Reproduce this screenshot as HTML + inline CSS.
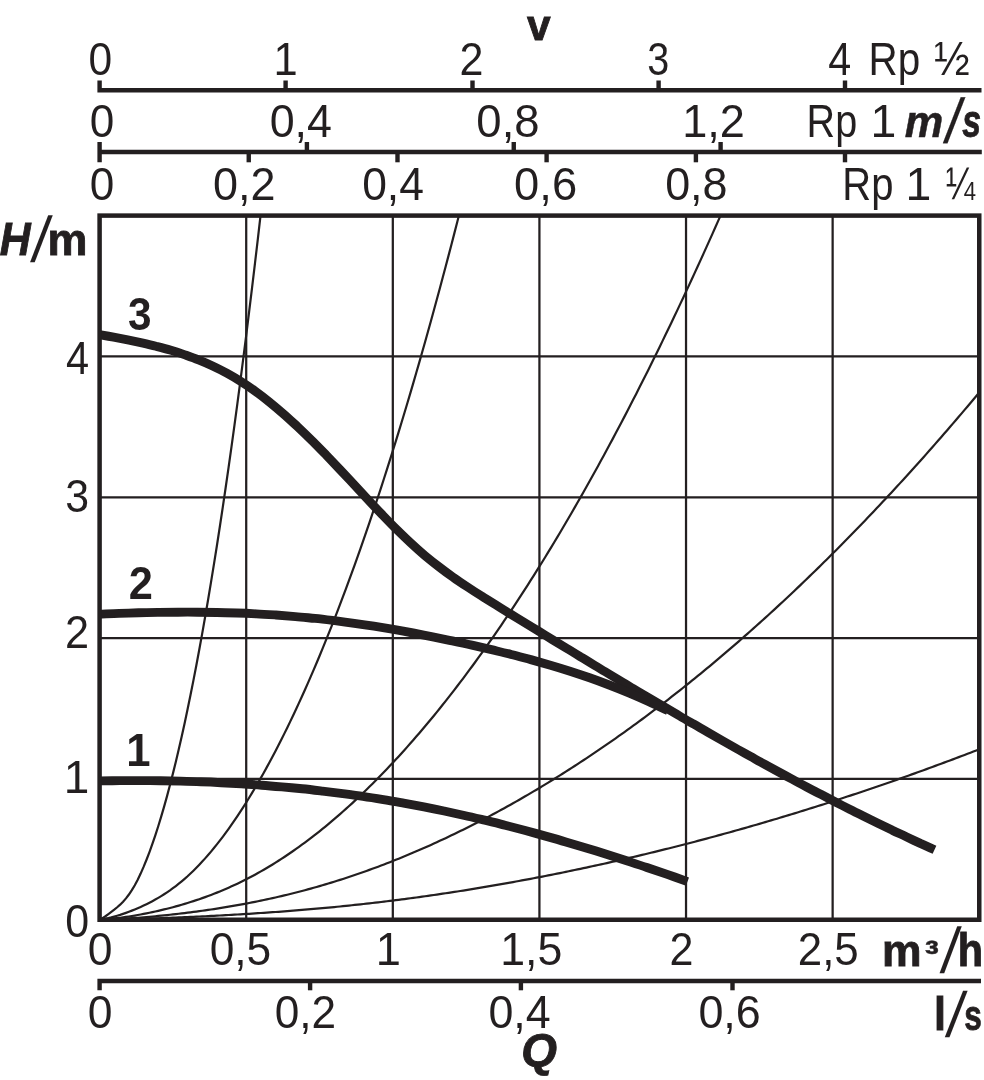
<!DOCTYPE html>
<html><head><meta charset="utf-8"><title>Pump curve</title>
<style>
html,body{margin:0;padding:0;background:#fff;}
svg{display:block}
text{font-family:'Liberation Sans', sans-serif;font-size:46.4px;fill:#231f20;}
</style></head><body>
<svg width="984" height="1080" viewBox="0 0 984 1080">
<rect width="984" height="1080" fill="#fff"/>
<g stroke="#231f20" stroke-width="2.25" fill="none">
<line x1="246.21" y1="215.6" x2="246.21" y2="919.75"/>
<line x1="392.82" y1="215.6" x2="392.82" y2="919.75"/>
<line x1="539.42" y1="215.6" x2="539.42" y2="919.75"/>
<line x1="686.03" y1="215.6" x2="686.03" y2="919.75"/>
<line x1="832.64" y1="215.6" x2="832.64" y2="919.75"/>
<line x1="99.6" y1="778.92" x2="979.25" y2="778.92"/>
<line x1="99.6" y1="638.09" x2="979.25" y2="638.09"/>
<line x1="99.6" y1="497.26" x2="979.25" y2="497.26"/>
<line x1="99.6" y1="356.43" x2="979.25" y2="356.43"/>
</g>
<g stroke="#231f20" stroke-width="2.2" fill="none">
<path d="M99.60 919.75L102.53 918.14L105.46 916.22L108.40 914.13L111.33 911.95L114.26 909.68L117.19 907.28L120.13 904.67L123.06 901.74L125.99 898.39L128.92 894.54L131.85 890.15L134.79 885.19L137.72 879.66L140.65 873.57L143.58 866.94L146.51 859.78L149.45 852.12L152.38 843.97L155.31 835.34L158.24 826.23L161.18 816.65L164.11 806.60L167.04 796.08L169.97 785.09L172.90 773.64L175.84 761.72L178.77 749.33L181.70 736.47L184.63 723.14L187.57 709.35L190.50 695.09L193.43 680.36L196.36 665.17L199.29 649.50L202.23 633.37L205.16 616.77L208.09 599.71L211.02 582.17L213.95 564.17L216.89 545.71L219.82 526.77L222.75 507.37L225.68 487.49L228.62 467.16L231.55 446.35L234.48 425.08L237.41 403.33L240.34 381.13L243.28 358.45L246.21 335.31L249.14 311.69L252.07 287.61L255.00 263.07L257.94 238.05L260.52 215.60"/>
<path d="M99.60 919.75L102.53 919.28L105.46 918.73L108.40 918.09L111.33 917.38L114.26 916.59L117.19 915.74L120.13 914.84L123.06 913.87L125.99 912.85L128.92 911.77L131.85 910.64L134.79 909.46L137.72 908.22L140.65 906.93L143.58 905.59L146.51 904.18L149.45 902.71L152.38 901.17L155.31 899.56L158.24 897.88L161.18 896.12L164.11 894.28L167.04 892.35L169.97 890.34L172.90 888.23L175.84 886.02L178.77 883.72L181.70 881.32L184.63 878.81L187.57 876.21L190.50 873.50L193.43 870.68L196.36 867.76L199.29 864.74L202.23 861.61L205.16 858.38L208.09 855.04L211.02 851.60L213.95 848.05L216.89 844.41L219.82 840.66L222.75 836.81L225.68 832.86L228.62 828.81L231.55 824.66L234.48 820.42L237.41 816.08L240.34 811.64L243.28 807.10L246.21 802.47L249.14 797.74L252.07 792.92L255.00 788.00L257.94 782.98L260.87 777.88L263.80 772.67L266.73 767.38L269.67 761.99L272.60 756.50L275.53 750.92L278.46 745.25L281.39 739.48L284.33 733.62L287.26 727.66L290.19 721.61L293.12 715.47L296.06 709.23L298.99 702.90L301.92 696.48L304.85 689.96L307.78 683.35L310.72 676.64L313.65 669.84L316.58 662.95L319.51 655.96L322.44 648.88L325.38 641.70L328.31 634.43L331.24 627.07L334.17 619.61L337.11 612.06L340.04 604.42L342.97 596.68L345.90 588.85L348.83 580.92L351.77 572.90L354.70 564.79L357.63 556.58L360.56 548.28L363.50 539.89L366.43 531.40L369.36 522.82L372.29 514.14L375.22 505.37L378.16 496.51L381.09 487.55L384.02 478.50L386.95 469.36L389.88 460.12L392.82 450.79L395.75 441.36L398.68 431.84L401.61 422.23L404.55 412.52L407.48 402.72L410.41 392.82L413.34 382.83L416.27 372.75L419.21 362.57L422.14 352.30L425.07 341.94L428.00 331.48L430.93 320.93L433.87 310.28L436.80 299.55L439.73 288.71L442.66 277.79L445.60 266.76L448.53 255.65L451.46 244.44L454.39 233.14L457.32 221.74L458.90 215.60"/>
<path d="M99.60 919.75L102.53 919.55L105.46 919.32L108.40 919.06L111.33 918.78L114.26 918.46L117.19 918.12L120.13 917.75L123.06 917.35L125.99 916.94L128.92 916.49L131.85 916.03L134.79 915.54L137.72 915.02L140.65 914.49L143.58 913.93L146.51 913.35L149.45 912.75L152.38 912.13L155.31 911.49L158.24 910.83L161.18 910.14L164.11 909.44L167.04 908.71L169.97 907.96L172.90 907.19L175.84 906.39L178.77 905.58L181.70 904.74L184.63 903.87L187.57 902.98L190.50 902.07L193.43 901.13L196.36 900.17L199.29 899.18L202.23 898.16L205.16 897.11L208.09 896.04L211.02 894.94L213.95 893.80L216.89 892.64L219.82 891.45L222.75 890.23L225.68 888.98L228.62 887.69L231.55 886.37L234.48 885.03L237.41 883.65L240.34 882.23L243.28 880.78L246.21 879.30L249.14 877.79L252.07 876.24L255.00 874.66L257.94 873.05L260.87 871.40L263.80 869.71L266.73 868.00L269.67 866.25L272.60 864.46L275.53 862.64L278.46 860.79L281.39 858.90L284.33 856.97L287.26 855.02L290.19 853.03L293.12 851.00L296.06 848.95L298.99 846.86L301.92 844.73L304.85 842.57L307.78 840.38L310.72 838.16L313.65 835.90L316.58 833.61L319.51 831.28L322.44 828.93L325.38 826.54L328.31 824.12L331.24 821.66L334.17 819.17L337.11 816.66L340.04 814.10L342.97 811.52L345.90 808.90L348.83 806.26L351.77 803.58L354.70 800.86L357.63 798.12L360.56 795.34L363.50 792.54L366.43 789.70L369.36 786.83L372.29 783.92L375.22 780.99L378.16 778.02L381.09 775.03L384.02 772.00L386.95 768.94L389.88 765.84L392.82 762.72L395.75 759.56L398.68 756.38L401.61 753.16L404.55 749.91L407.48 746.63L410.41 743.31L413.34 739.97L416.27 736.59L419.21 733.19L422.14 729.75L425.07 726.28L428.00 722.78L430.93 719.24L433.87 715.68L436.80 712.08L439.73 708.46L442.66 704.80L445.60 701.11L448.53 697.39L451.46 693.63L454.39 689.85L457.32 686.03L460.26 682.19L463.19 678.31L466.12 674.40L469.05 670.46L471.99 666.48L474.92 662.48L477.85 658.44L480.78 654.38L483.71 650.28L486.65 646.15L489.58 641.99L492.51 637.80L495.44 633.57L498.37 629.32L501.31 625.03L504.24 620.71L507.17 616.36L510.10 611.98L513.04 607.57L515.97 603.12L518.90 598.65L521.83 594.14L524.76 589.60L527.70 585.03L530.63 580.43L533.56 575.80L536.49 571.14L539.43 566.44L542.36 561.72L545.29 556.96L548.22 552.17L551.15 547.35L554.09 542.50L557.02 537.61L559.95 532.70L562.88 527.75L565.81 522.77L568.75 517.76L571.68 512.72L574.61 507.65L577.54 502.55L580.48 497.41L583.41 492.25L586.34 487.05L589.27 481.82L592.20 476.56L595.14 471.27L598.07 465.95L601.00 460.59L603.93 455.21L606.86 449.79L609.80 444.34L612.73 438.86L615.66 433.35L618.59 427.80L621.53 422.23L624.46 416.62L627.39 410.99L630.32 405.32L633.25 399.62L636.19 393.89L639.12 388.12L642.05 382.33L644.98 376.50L647.92 370.65L650.85 364.76L653.78 358.84L656.71 352.89L659.64 346.91L662.58 340.89L665.51 334.85L668.44 328.77L671.37 322.66L674.30 316.52L677.24 310.35L680.17 304.15L683.10 297.91L686.03 291.65L688.97 285.35L691.90 279.02L694.83 272.66L697.76 266.27L700.69 259.85L703.63 253.40L706.56 246.91L709.49 240.40L712.42 233.85L715.35 227.27L718.29 220.66L720.52 215.60"/>
<path d="M99.60 919.75L102.53 919.66L105.46 919.56L108.40 919.44L111.33 919.32L114.26 919.19L117.19 919.04L120.13 918.88L123.06 918.72L125.99 918.54L128.92 918.35L131.85 918.16L134.79 917.95L137.72 917.73L140.65 917.51L143.58 917.27L146.51 917.03L149.45 916.78L152.38 916.52L155.31 916.25L158.24 915.97L161.18 915.68L164.11 915.38L167.04 915.08L169.97 914.76L172.90 914.44L175.84 914.11L178.77 913.77L181.70 913.43L184.63 913.07L187.57 912.71L190.50 912.34L193.43 911.96L196.36 911.57L199.29 911.17L202.23 910.76L205.16 910.35L208.09 909.92L211.02 909.49L213.95 909.05L216.89 908.59L219.82 908.13L222.75 907.66L225.68 907.18L228.62 906.69L231.55 906.19L234.48 905.69L237.41 905.17L240.34 904.64L243.28 904.10L246.21 903.55L249.14 902.99L252.07 902.42L255.00 901.84L257.94 901.25L260.87 900.64L263.80 900.03L266.73 899.40L269.67 898.77L272.60 898.12L275.53 897.46L278.46 896.79L281.39 896.10L284.33 895.41L287.26 894.70L290.19 893.98L293.12 893.25L296.06 892.51L298.99 891.76L301.92 890.99L304.85 890.21L307.78 889.42L310.72 888.61L313.65 887.80L316.58 886.97L319.51 886.13L322.44 885.27L325.38 884.41L328.31 883.53L331.24 882.64L334.17 881.73L337.11 880.82L340.04 879.89L342.97 878.94L345.90 877.99L348.83 877.02L351.77 876.04L354.70 875.05L357.63 874.05L360.56 873.03L363.50 872.00L366.43 870.96L369.36 869.90L372.29 868.83L375.22 867.75L378.16 866.66L381.09 865.55L384.02 864.44L386.95 863.31L389.88 862.16L392.82 861.01L395.75 859.84L398.68 858.66L401.61 857.47L404.55 856.27L407.48 855.05L410.41 853.82L413.34 852.58L416.27 851.33L419.21 850.07L422.14 848.79L425.07 847.50L428.00 846.20L430.93 844.88L433.87 843.56L436.80 842.22L439.73 840.87L442.66 839.51L445.60 838.14L448.53 836.75L451.46 835.36L454.39 833.95L457.32 832.52L460.26 831.09L463.19 829.65L466.12 828.19L469.05 826.72L471.99 825.24L474.92 823.75L477.85 822.24L480.78 820.73L483.71 819.20L486.65 817.66L489.58 816.11L492.51 814.55L495.44 812.97L498.37 811.38L501.31 809.78L504.24 808.17L507.17 806.55L510.10 804.92L513.04 803.27L515.97 801.61L518.90 799.95L521.83 798.26L524.76 796.57L527.70 794.87L530.63 793.15L533.56 791.42L536.49 789.68L539.43 787.93L542.36 786.17L545.29 784.39L548.22 782.61L551.15 780.81L554.09 779.00L557.02 777.18L559.95 775.34L562.88 773.50L565.81 771.64L568.75 769.77L571.68 767.89L574.61 766.00L577.54 764.09L580.48 762.18L583.41 760.25L586.34 758.31L589.27 756.36L592.20 754.40L595.14 752.42L598.07 750.44L601.00 748.44L603.93 746.43L606.86 744.41L609.80 742.38L612.73 740.33L615.66 738.28L618.59 736.21L621.53 734.13L624.46 732.04L627.39 729.93L630.32 727.82L633.25 725.69L636.19 723.55L639.12 721.40L642.05 719.24L644.98 717.07L647.92 714.88L650.85 712.69L653.78 710.48L656.71 708.26L659.64 706.03L662.58 703.78L665.51 701.53L668.44 699.26L671.37 696.98L674.30 694.69L677.24 692.39L680.17 690.07L683.10 687.75L686.03 685.41L688.97 683.06L691.90 680.70L694.83 678.33L697.76 675.94L700.69 673.55L703.63 671.14L706.56 668.72L709.49 666.29L712.42 663.84L715.35 661.39L718.29 658.92L721.22 656.44L724.15 653.95L727.08 651.45L730.02 648.94L732.95 646.41L735.88 643.88L738.81 641.33L741.74 638.77L744.68 636.20L747.61 633.61L750.54 631.02L753.47 628.41L756.41 625.79L759.34 623.16L762.27 620.52L765.20 617.87L768.13 615.20L771.07 612.52L774.00 609.83L776.93 607.13L779.86 604.42L782.79 601.70L785.73 598.96L788.66 596.21L791.59 593.45L794.52 590.68L797.46 587.90L800.39 585.11L803.32 582.30L806.25 579.48L809.18 576.65L812.12 573.81L815.05 570.96L817.98 568.09L820.91 565.22L823.85 562.33L826.78 559.43L829.71 556.52L832.64 553.59L835.57 550.66L838.51 547.71L841.44 544.75L844.37 541.78L847.30 538.80L850.23 535.81L853.17 532.80L856.10 529.78L859.03 526.75L861.96 523.71L864.90 520.66L867.83 517.60L870.76 514.52L873.69 511.43L876.62 508.33L879.56 505.22L882.49 502.10L885.42 498.97L888.35 495.82L891.28 492.66L894.22 489.49L897.15 486.31L900.08 483.12L903.01 479.92L905.95 476.70L908.88 473.47L911.81 470.23L914.74 466.98L917.67 463.72L920.61 460.44L923.54 457.15L926.47 453.86L929.40 450.55L932.34 447.22L935.27 443.89L938.20 440.55L941.13 437.19L944.06 433.82L947.00 430.44L949.93 427.05L952.86 423.64L955.79 420.23L958.72 416.80L961.66 413.36L964.59 409.91L967.52 406.45L970.45 402.98L973.39 399.49L976.32 395.99L979.25 392.48"/>
<path d="M99.60 919.75L102.53 919.71L105.46 919.66L108.40 919.61L111.33 919.55L114.26 919.49L117.19 919.43L120.13 919.37L123.06 919.30L125.99 919.22L128.92 919.15L131.85 919.07L134.79 918.99L137.72 918.91L140.65 918.82L143.58 918.73L146.51 918.64L149.45 918.54L152.38 918.44L155.31 918.34L158.24 918.24L161.18 918.13L164.11 918.02L167.04 917.91L169.97 917.79L172.90 917.68L175.84 917.56L178.77 917.44L181.70 917.31L184.63 917.19L187.57 917.06L190.50 916.93L193.43 916.79L196.36 916.66L199.29 916.52L202.23 916.38L205.16 916.23L208.09 916.09L211.02 915.94L213.95 915.79L216.89 915.64L219.82 915.48L222.75 915.32L225.68 915.16L228.62 915.00L231.55 914.83L234.48 914.66L237.41 914.49L240.34 914.32L243.28 914.14L246.21 913.96L249.14 913.78L252.07 913.59L255.00 913.40L257.94 913.21L260.87 913.02L263.80 912.82L266.73 912.62L269.67 912.42L272.60 912.21L275.53 912.00L278.46 911.79L281.39 911.57L284.33 911.35L287.26 911.12L290.19 910.90L293.12 910.67L296.06 910.43L298.99 910.20L301.92 909.96L304.85 909.71L307.78 909.46L310.72 909.21L313.65 908.95L316.58 908.69L319.51 908.43L322.44 908.16L325.38 907.89L328.31 907.62L331.24 907.34L334.17 907.06L337.11 906.77L340.04 906.48L342.97 906.18L345.90 905.88L348.83 905.58L351.77 905.28L354.70 904.96L357.63 904.65L360.56 904.33L363.50 904.01L366.43 903.68L369.36 903.35L372.29 903.01L375.22 902.67L378.16 902.33L381.09 901.98L384.02 901.63L386.95 901.27L389.88 900.91L392.82 900.55L395.75 900.18L398.68 899.80L401.61 899.43L404.55 899.04L407.48 898.66L410.41 898.27L413.34 897.88L416.27 897.48L419.21 897.08L422.14 896.67L425.07 896.26L428.00 895.84L430.93 895.43L433.87 895.00L436.80 894.58L439.73 894.15L442.66 893.71L445.60 893.27L448.53 892.83L451.46 892.38L454.39 891.93L457.32 891.47L460.26 891.02L463.19 890.55L466.12 890.08L469.05 889.61L471.99 889.14L474.92 888.66L477.85 888.18L480.78 887.69L483.71 887.20L486.65 886.70L489.58 886.20L492.51 885.70L495.44 885.19L498.37 884.68L501.31 884.17L504.24 883.65L507.17 883.13L510.10 882.60L513.04 882.07L515.97 881.53L518.90 881.00L521.83 880.45L524.76 879.91L527.70 879.36L530.63 878.80L533.56 878.25L536.49 877.68L539.43 877.12L542.36 876.55L545.29 875.98L548.22 875.40L551.15 874.82L554.09 874.23L557.02 873.65L559.95 873.05L562.88 872.46L565.81 871.86L568.75 871.25L571.68 870.65L574.61 870.03L577.54 869.42L580.48 868.80L583.41 868.18L586.34 867.55L589.27 866.92L592.20 866.29L595.14 865.65L598.07 865.01L601.00 864.36L603.93 863.71L606.86 863.06L609.80 862.40L612.73 861.74L615.66 861.08L618.59 860.41L621.53 859.73L624.46 859.06L627.39 858.38L630.32 857.69L633.25 857.01L636.19 856.32L639.12 855.62L642.05 854.92L644.98 854.22L647.92 853.51L650.85 852.80L653.78 852.09L656.71 851.37L659.64 850.65L662.58 849.92L665.51 849.19L668.44 848.46L671.37 847.72L674.30 846.98L677.24 846.24L680.17 845.49L683.10 844.74L686.03 843.98L688.97 843.22L691.90 842.46L694.83 841.69L697.76 840.92L700.69 840.15L703.63 839.37L706.56 838.59L709.49 837.80L712.42 837.01L715.35 836.22L718.29 835.42L721.22 834.62L724.15 833.81L727.08 833.00L730.02 832.19L732.95 831.38L735.88 830.56L738.81 829.73L741.74 828.90L744.68 828.07L747.61 827.24L750.54 826.40L753.47 825.56L756.41 824.71L759.34 823.86L762.27 823.00L765.20 822.15L768.13 821.28L771.07 820.42L774.00 819.55L776.93 818.68L779.86 817.80L782.79 816.92L785.73 816.03L788.66 815.14L791.59 814.25L794.52 813.36L797.46 812.46L800.39 811.55L803.32 810.65L806.25 809.74L809.18 808.82L812.12 807.90L815.05 806.98L817.98 806.05L820.91 805.12L823.85 804.19L826.78 803.25L829.71 802.31L832.64 801.36L835.57 800.42L838.51 799.46L841.44 798.51L844.37 797.55L847.30 796.58L850.23 795.61L853.17 794.64L856.10 793.67L859.03 792.69L861.96 791.70L864.90 790.72L867.83 789.73L870.76 788.73L873.69 787.73L876.62 786.73L879.56 785.73L882.49 784.72L885.42 783.70L888.35 782.69L891.28 781.67L894.22 780.64L897.15 779.61L900.08 778.58L903.01 777.54L905.95 776.50L908.88 775.46L911.81 774.41L914.74 773.36L917.67 772.31L920.61 771.25L923.54 770.18L926.47 769.12L929.40 768.05L932.34 766.97L935.27 765.90L938.20 764.82L941.13 763.73L944.06 762.64L947.00 761.55L949.93 760.45L952.86 759.35L955.79 758.25L958.72 757.14L961.66 756.03L964.59 754.91L967.52 753.79L970.45 752.67L973.39 751.54L976.32 750.41L979.25 749.28"/>
</g>
<g stroke="#231f20" stroke-width="8.9" fill="none" stroke-linejoin="round">
<path d="M99.4 334.6C101.8 335.0 108.8 336.3 113.6 337.2C118.3 338.1 123.0 339.0 127.7 339.9C132.4 340.9 137.1 341.9 141.9 342.9C146.6 344.0 151.3 345.1 156.0 346.3C160.7 347.5 165.5 348.7 170.2 350.1C174.9 351.5 179.6 353.0 184.3 354.6C189.0 356.3 193.8 358.0 198.5 359.9C203.2 361.8 207.9 363.8 212.6 366.0C217.4 368.3 222.1 370.6 226.8 373.2C231.5 375.8 236.2 378.5 240.9 381.5C245.7 384.5 250.4 387.7 255.1 391.1C259.8 394.5 264.5 398.1 269.3 401.9C274.0 405.7 278.7 409.7 283.4 413.8C288.1 417.9 292.8 422.3 297.6 426.7C302.3 431.1 307.0 435.7 311.7 440.4C316.4 445.0 321.1 449.9 325.9 454.7C330.6 459.6 335.3 464.6 340.0 469.6C344.7 474.6 349.5 479.7 354.2 484.8C358.9 489.9 363.6 495.0 368.3 500.0C373.0 505.1 377.8 510.1 382.5 515.0C387.2 519.9 391.9 524.8 396.6 529.4C401.4 534.1 406.1 538.7 410.8 543.0C415.5 547.4 420.2 551.6 424.9 555.6C429.7 559.6 434.4 563.3 439.1 566.9C443.8 570.6 448.5 574.0 453.3 577.3C458.0 580.7 462.7 583.8 467.4 586.9C472.1 590.1 476.8 593.1 481.6 596.0C486.3 599.0 491.0 601.9 495.7 604.8C500.4 607.8 505.2 610.7 509.9 613.6C514.6 616.5 519.3 619.4 524.0 622.3C528.7 625.2 533.5 628.1 538.2 630.9C542.9 633.8 547.6 636.7 552.3 639.6C557.1 642.5 561.8 645.4 566.5 648.3C571.2 651.1 575.9 654.0 580.6 656.9C585.4 659.7 590.1 662.6 594.8 665.5C599.5 668.3 604.2 671.2 609.0 674.0C613.7 676.8 618.4 679.7 623.1 682.5C627.8 685.3 632.5 688.2 637.3 691.0C642.0 693.8 646.7 696.6 651.4 699.4C656.1 702.2 660.9 705.0 665.6 707.7C670.3 710.5 675.0 713.3 679.7 716.0C684.4 718.8 689.2 721.5 693.9 724.2C698.6 727.0 703.3 729.7 708.0 732.4C712.8 735.1 717.5 737.8 722.2 740.5C726.9 743.2 731.6 745.8 736.3 748.5C741.1 751.1 745.8 753.8 750.5 756.4C755.2 759.0 759.9 761.7 764.6 764.2C769.4 766.8 774.1 769.4 778.8 772.0C783.5 774.6 788.2 777.1 793.0 779.6C797.7 782.2 802.4 784.7 807.1 787.2C811.8 789.7 816.5 792.2 821.3 794.6C826.0 797.1 830.7 799.5 835.4 802.0C840.1 804.4 844.9 806.8 849.6 809.2C854.3 811.5 859.0 813.9 863.7 816.3C868.4 818.6 873.2 820.9 877.9 823.2C882.6 825.5 887.3 827.8 892.0 830.1C896.8 832.3 901.5 834.6 906.2 836.8C910.9 839.0 915.6 841.2 920.3 843.4C925.1 845.5 932.1 848.7 934.5 849.8"/>
<path d="M99.4 614.2C102.7 614.1 112.5 613.6 119.0 613.4C125.5 613.2 132.1 613.0 138.6 612.8C145.1 612.6 151.7 612.5 158.2 612.4C164.8 612.3 171.3 612.2 177.8 612.2C184.4 612.1 190.9 612.1 197.4 612.2C204.0 612.2 210.5 612.3 217.0 612.5C223.6 612.6 230.1 612.8 236.6 613.0C243.2 613.2 249.7 613.5 256.3 613.9C262.8 614.2 269.3 614.6 275.9 615.0C282.4 615.5 288.9 616.0 295.5 616.6C302.0 617.1 308.5 617.8 315.1 618.4C321.6 619.1 328.1 619.9 334.7 620.7C341.2 621.5 347.8 622.4 354.3 623.3C360.8 624.2 367.4 625.2 373.9 626.2C380.4 627.2 387.0 628.3 393.5 629.4C400.0 630.6 406.6 631.8 413.1 633.0C419.6 634.2 426.2 635.5 432.7 636.8C439.3 638.2 445.8 639.5 452.3 640.9C458.9 642.3 465.4 643.7 471.9 645.2C478.5 646.7 485.0 648.2 491.5 649.7C498.1 651.3 504.6 652.8 511.1 654.5C517.7 656.1 524.2 657.9 530.8 659.6C537.3 661.4 543.8 663.3 550.4 665.2C556.9 667.1 563.4 669.1 570.0 671.2C576.5 673.3 583.0 675.5 589.6 677.8C596.1 680.1 602.6 682.5 609.2 685.0C615.7 687.5 622.3 690.1 628.8 692.8C635.3 695.5 641.9 698.4 648.4 701.4C654.9 704.4 664.7 709.2 668.0 710.8"/>
<path d="M99.4 780.9C102.8 780.8 112.9 780.7 119.7 780.6C126.4 780.6 133.2 780.6 140.0 780.6C146.7 780.6 153.5 780.7 160.2 780.7C167.0 780.8 173.8 781.0 180.5 781.1C187.3 781.3 194.0 781.5 200.8 781.8C207.6 782.0 214.3 782.3 221.1 782.7C227.8 783.0 234.6 783.4 241.4 783.8C248.1 784.2 254.9 784.7 261.6 785.2C268.4 785.7 275.2 786.3 281.9 786.9C288.7 787.5 295.4 788.1 302.2 788.8C309.0 789.5 315.7 790.3 322.5 791.1C329.2 791.9 336.0 792.7 342.8 793.6C349.5 794.5 356.3 795.4 363.0 796.4C369.8 797.4 376.6 798.5 383.3 799.6C390.1 800.7 396.8 801.9 403.6 803.1C410.3 804.3 417.1 805.6 423.9 806.9C430.6 808.2 437.4 809.6 444.1 811.0C450.9 812.5 457.7 814.0 464.4 815.5C471.2 817.0 477.9 818.6 484.7 820.2C491.5 821.8 498.2 823.5 505.0 825.2C511.7 826.9 518.5 828.7 525.3 830.5C532.0 832.3 538.8 834.2 545.5 836.1C552.3 838.0 559.1 839.9 565.8 841.9C572.6 843.9 579.3 845.9 586.1 847.9C592.9 850.0 599.6 852.1 606.4 854.2C613.1 856.4 619.9 858.6 626.7 860.8C633.4 863.0 640.2 865.2 646.9 867.5C653.7 869.8 660.5 872.1 667.2 874.4C674.0 876.8 684.1 880.4 687.5 881.6"/>
</g>
<rect x="99.6" y="215.6" width="879.65" height="704.15" fill="none" stroke="#231f20" stroke-width="4.5"/>
<g stroke="#231f20" stroke-width="4.4" fill="none">
<path d="M99.6 80.5V90.3H981.5"/>
<path d="M285.6 80.5V90.3"/>
<path d="M472.5 80.5V90.3"/>
<path d="M658.6 80.5V90.3"/>
<path d="M845 80.5V90.3"/>
<path d="M99.6 142V162.3M97.4 152H981.8"/>
<path d="M306.9 142V152"/>
<path d="M513.75 142V152"/>
<path d="M720.6 142V152"/>
<path d="M248.75 152V162.3"/>
<path d="M397.5 152V162.3"/>
<path d="M546.6 152V162.3"/>
<path d="M695.9 152V162.3"/>
<path d="M845 152V162.3"/>
<path d="M99.6 990.3V981H981"/>
<path d="M310.1 981V990.3"/>
<path d="M520.9 981V990.3"/>
<path d="M732.5 981V990.3"/>
</g>
<g>
<text transform="matrix(0.9179 0 0 1.0000 88.47 75.00)" style="">0</text>
<text transform="matrix(0.9375 0 0 1.0000 273.56 75.00)" style="">1</text>
<text transform="matrix(0.9286 0 0 1.0000 459.58 75.00)" style="">2</text>
<text transform="matrix(0.8523 0 0 1.0000 647.33 75.00)" style="">3</text>
<text transform="matrix(0.8893 0 0 1.0000 828.36 75.00)" style="">4</text>
<text transform="matrix(0.8711 0 0 1.0000 868.56 75.00)" style="">Rp</text>
<text transform="matrix(0.9222 0 0 1.0312 933.97 75.30)" style="">½</text>
<text transform="matrix(0.9156 0 0 0.9324 527.00 40.00)" style="font-weight:bold;stroke:#231f20;stroke-width:0.90;">v</text>
<text transform="matrix(0.9515 0 0 1.0000 89.66 137.00)" style="">0</text>
<text transform="matrix(0.9660 0 0 1.0000 269.64 137.00)" style="">0,4</text>
<text transform="matrix(0.9808 0 0 1.0000 476.37 137.00)" style="">0,8</text>
<text transform="matrix(0.9729 0 0 1.0000 682.18 137.00)" style="">1,2</text>
<text transform="matrix(0.8525 0 0 1.0000 806.62 137.00)" style="">Rp</text>
<text transform="matrix(1.0000 0 0 1.0000 870.58 137.00)" style="">1</text>
<text transform="matrix(0.9336 0 0 0.9720 904.78 137.00)" style="font-weight:bold;stroke:#231f20;stroke-width:0.50;font-style:italic;">m</text>
<text transform="matrix(0.8500 0 -0.1913 1.3327 944.51 142.27)" style="font-weight:bold;stroke:#231f20;stroke-width:0.20;font-style:italic;">/</text>
<text transform="matrix(0.7292 0 0 0.9789 962.26 136.97)" style="font-weight:bold;stroke:#231f20;stroke-width:0.90;font-style:italic;">s</text>
<text transform="matrix(0.9515 0 0 1.0000 89.66 199.50)" style="">0</text>
<text transform="matrix(0.9696 0 0 1.0000 212.88 199.50)" style="">0,2</text>
<text transform="matrix(0.9579 0 0 1.0000 362.15 199.50)" style="">0,4</text>
<text transform="matrix(0.9766 0 0 1.0000 514.12 199.50)" style="">0,6</text>
<text transform="matrix(0.9684 0 0 1.0000 665.14 199.50)" style="">0,8</text>
<text transform="matrix(0.8618 0 0 1.0000 842.34 199.50)" style="">Rp</text>
<text transform="matrix(1.0000 0 0 1.0000 905.58 199.50)" style="">1</text>
<text transform="matrix(0.7566 0 0 0.9949 945.74 199.34)" style="">¼</text>
<text transform="matrix(0.9208 0 0 1.0000 -0.31 255.20)" style="font-weight:bold;stroke:#231f20;stroke-width:0.90;font-style:italic;">H</text>
<text transform="matrix(0.8500 0 -0.3635 1.3644 30.08 261.14)" style="font-weight:bold;stroke:#231f20;stroke-width:0.00;">/</text>
<text transform="matrix(0.9673 0 0 0.9400 47.60 255.00)" style="font-weight:bold;stroke:#231f20;stroke-width:0.90;">m</text>
<text transform="matrix(0.8957 0 0 1.0000 65.90 373.50)" style="">4</text>
<text transform="matrix(0.9227 0 0 1.0000 65.26 512.20)" style="">3</text>
<text transform="matrix(0.9333 0 0 1.0000 65.12 648.20)" style="">2</text>
<text transform="matrix(0.9900 0 0 1.0000 63.87 792.70)" style="">1</text>
<text transform="matrix(0.9269 0 0 1.0000 65.16 936.80)" style="">0</text>
<text transform="matrix(0.9130 0 0 1.0000 128.09 329.60)" style="font-weight:bold;stroke:#231f20;stroke-width:0.00;">3</text>
<text transform="matrix(0.9358 0 0 1.0000 128.74 598.60)" style="font-weight:bold;stroke:#231f20;stroke-width:0.00;">2</text>
<text transform="matrix(0.9415 0 0 1.0000 126.18 766.00)" style="font-weight:bold;stroke:#231f20;stroke-width:0.00;">1</text>
<text transform="matrix(0.9582 0 0 1.0000 87.80 965.00)" style="">0</text>
<text transform="matrix(0.9549 0 0 1.0000 209.66 965.00)" style="">0,5</text>
<text transform="matrix(0.9750 0 0 1.0000 375.68 965.00)" style="">1</text>
<text transform="matrix(0.9619 0 0 1.0000 500.22 965.00)" style="">1,5</text>
<text transform="matrix(0.9286 0 0 1.0000 669.58 965.00)" style="">2</text>
<text transform="matrix(0.9448 0 0 1.0000 797.80 965.00)" style="">2,5</text>
<text transform="matrix(0.9589 0 0 0.9360 882.12 966.40)" style="font-weight:bold;stroke:#231f20;stroke-width:0.90;">m</text>
<text transform="matrix(0.9146 0 0 0.7824 924.79 965.90)" style="font-weight:bold;stroke:#231f20;stroke-width:0.50;">³</text>
<text transform="matrix(0.8500 0 -0.3490 1.3615 939.57 972.14)" style="font-weight:bold;stroke:#231f20;stroke-width:0.00;">/</text>
<text transform="matrix(0.8956 0 0 1.0000 957.71 966.40)" style="font-weight:bold;stroke:#231f20;stroke-width:0.90;">h</text>
<text transform="matrix(0.9582 0 0 1.0000 87.80 1028.40)" style="">0</text>
<text transform="matrix(0.9530 0 0 1.0000 274.66 1028.40)" style="">0,2</text>
<text transform="matrix(0.9660 0 0 1.0000 488.39 1028.40)" style="">0,4</text>
<text transform="matrix(0.9684 0 0 1.0000 698.39 1028.40)" style="">0,6</text>
<text transform="matrix(0.9300 0 0 1.0000 934.01 1030.00)" style="font-weight:bold;stroke:#231f20;stroke-width:0.90;">l</text>
<text transform="matrix(0.8500 0 -0.3663 1.3442 944.68 1035.66)" style="font-weight:bold;stroke:#231f20;stroke-width:0.00;">/</text>
<text transform="matrix(0.6806 0 0 0.9195 964.37 1029.69)" style="font-weight:bold;stroke:#231f20;stroke-width:0.90;">s</text>
<text transform="matrix(0.9900 0 0 1.0000 521.27 1066.00)" style="font-weight:bold;stroke:#231f20;stroke-width:0.90;font-style:italic;">Q</text>
</g>
</svg>
</body></html>
